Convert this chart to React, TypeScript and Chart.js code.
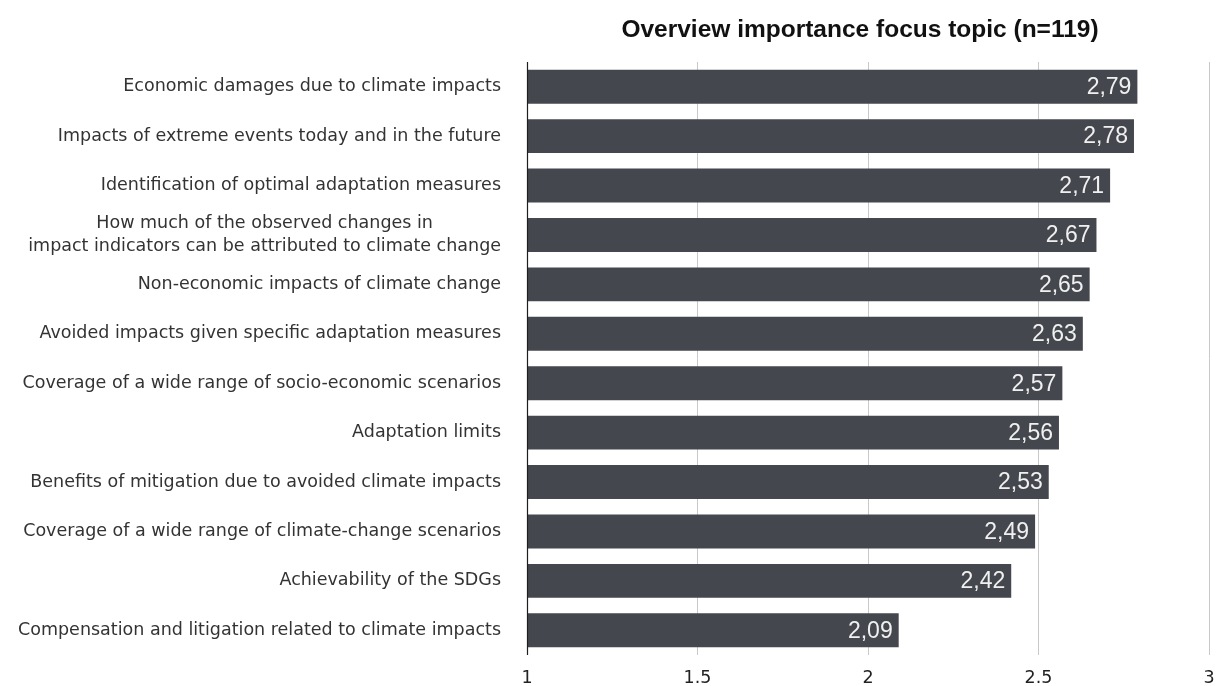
import React, { useEffect, useRef } from "react";
import { Chart, registerables } from "chart.js";

Chart.register(...registerables);

const categories: (string | string[])[] = [
  "Economic damages due to climate impacts",
  "Impacts of extreme events today and in the future",
  "Identification of optimal adaptation measures",
  ["How much of the observed changes in", "impact indicators can be attributed to climate change"],
  "Non-economic impacts of climate change",
  "Avoided impacts given specific adaptation measures",
  "Coverage of a wide range of socio-economic scenarios",
  "Adaptation limits",
  "Benefits of mitigation due to avoided climate impacts",
  "Coverage of a wide range of climate-change scenarios",
  "Achievability of the SDGs",
  "Compensation and litigation related to climate impacts",
];

const values = [2.79, 2.78, 2.71, 2.67, 2.65, 2.63, 2.57, 2.56, 2.53, 2.49, 2.42, 2.09];

const valueLabels = ["2,79", "2,78", "2,71", "2,67", "2,65", "2,63", "2,57", "2,56", "2,53", "2,49", "2,42", "2,09"];

const xMin = 1;
const xMax = 3;
const xStep = 0.5;

const title = "Overview importance focus topic (n=119)";

const LABEL_FONT = '17.5px "DejaVu Sans"';

const decorPlugin = {
  id: "decor",
  afterDatasetsDraw(chart: any) {
    const { ctx, chartArea, scales } = chart;
    const xs = scales.x;
    const ys = scales.y;
    ctx.save();
    // axis line at x = 1
    const x0 = Math.round(xs.getPixelForValue(xMin)) + 0.5;
    ctx.strokeStyle = "#1e1e1e";
    ctx.lineWidth = 1.2;
    ctx.beginPath();
    ctx.moveTo(x0, chartArea.top);
    ctx.lineTo(x0, chartArea.bottom);
    ctx.stroke();

    // value labels inside bars
    ctx.font = '23px "Liberation Sans"';
    ctx.fillStyle = "#f0f0f0";
    ctx.textAlign = "right";
    ctx.textBaseline = "middle";
    const meta = chart.getDatasetMeta(0);
    meta.data.forEach((bar: any, i: number) => {
      ctx.fillText(valueLabels[i], bar.x - 6, bar.y + 1);
    });

    // category labels
    ctx.font = LABEL_FONT;
    ctx.fillStyle = "#333333";
    const rightEdge = chartArea.left - 26;
    categories.forEach((lab, i) => {
      const y = ys.getPixelForValue(i);
      const lines = Array.isArray(lab) ? lab : [lab];
      const lh = 23;
      if (lines.length === 1) {
        ctx.textAlign = "right";
        ctx.fillText(lines[0], rightEdge, y);
      } else {
        const maxW = Math.max(...lines.map((l) => ctx.measureText(l).width));
        ctx.textAlign = "center";
        lines.forEach((l, j) => {
          ctx.fillText(l, rightEdge - maxW / 2, y + (j - (lines.length - 1) / 2) * lh);
        });
      }
    });

    // title
    ctx.font = 'bold 24.5px "Liberation Sans"';
    ctx.fillStyle = "#111111";
    ctx.textAlign = "center";
    ctx.fillText(title, (chartArea.left + chartArea.right) / 2 - 8, 30);
    ctx.restore();
  },
};

export default function App() {
  const canvasRef = useRef<HTMLCanvasElement | null>(null);

  useEffect(() => {
    if (!canvasRef.current) return;
    const chart = new Chart(canvasRef.current, {
      type: "bar",
      data: {
        labels: categories.map((c) => (Array.isArray(c) ? c.join(" ") : c)),
        datasets: [
          {
            data: values,
            backgroundColor: "#44474d",
            borderWidth: 0,
            categoryPercentage: 1,
            barPercentage: 0.685,
          },
        ],
      },
      options: {
        indexAxis: "y",
        responsive: false,
        animation: false,
        layout: { padding: { top: 62, right: 10, left: 0, bottom: 0 } },
        plugins: {
          legend: { display: false },
          title: { display: false },
          tooltip: { enabled: false },
        },
        scales: {
          x: {
            type: "linear",
            min: xMin,
            max: xMax,
            afterFit: (s: any) => {
              s.height = 31;
              s.paddingLeft = 0;
              s.paddingRight = 0;
            },
            ticks: {
              stepSize: xStep,
              padding: 13,
              color: "#222222",
              font: { family: "DejaVu Sans", size: 17.5 },
              callback: (v: any) => String(v),
              maxRotation: 0,
            },
            grid: {
              drawTicks: false,
              color: (c: any) => (c.tick && c.tick.value === xMin ? "rgba(0,0,0,0)" : "#c9c9c9"),
              lineWidth: 1,
            },
            border: { display: false },
          },
          y: {
            afterFit: (s: any) => {
              s.width = 527;
            },
            ticks: { display: false },
            grid: { display: false, drawTicks: false },
            border: { display: false },
          },
        },
      },
      plugins: [decorPlugin],
    });
    return () => chart.destroy();
  }, []);

  return (
    <div style={{ position: "fixed", left: 0, top: 0, width: 1219, height: 686, background: "#fff" }}>
      <canvas ref={canvasRef} width={1219} height={686} />
    </div>
  );
}
